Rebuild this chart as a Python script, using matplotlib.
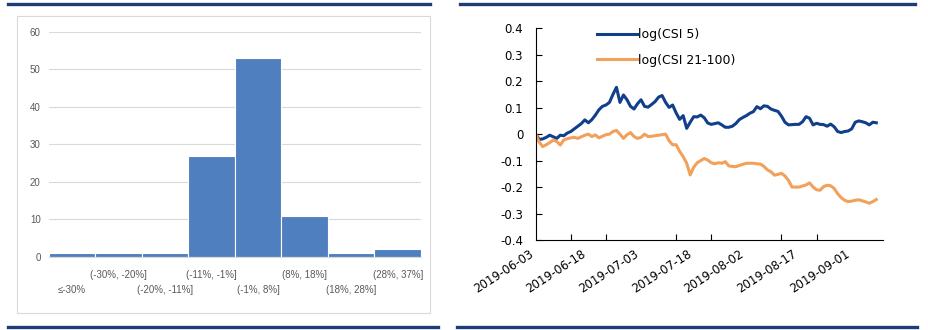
import matplotlib.pyplot as plt
import matplotlib.ticker as mticker
import matplotlib.dates as mdates
from matplotlib.patches import Rectangle
from matplotlib.lines import Line2D
import pandas as pd

# histogram of returns by bucket
buckets = ["≤-30%", "(-30%, -20%]", "(-20%, -11%]", "(-11%, -1%]",
           "(-1%, 8%]", "(8%, 18%]", "(18%, 28%]", "(28%, 37%]"]
counts = [1, 1, 1, 27, 53, 11, 1, 2]

# daily log paths, starting 2019-06-03
start_date = "2019-06-03"
csi5 = [0.000, -0.020, -0.018, -0.012, -0.004, -0.010, -0.016, -0.004, -0.006, 0.004,
        0.010, 0.020, 0.030, 0.040, 0.054, 0.043, 0.055, 0.072, 0.092, 0.105,
        0.110, 0.120, 0.150, 0.177, 0.120, 0.148, 0.130, 0.105, 0.095, 0.115,
        0.130, 0.105, 0.102, 0.112, 0.123, 0.140, 0.146, 0.120, 0.101, 0.110,
        0.080, 0.056, 0.070, 0.022, 0.045, 0.066, 0.065, 0.072, 0.062, 0.042,
        0.037, 0.040, 0.043, 0.035, 0.026, 0.026, 0.030, 0.040, 0.055, 0.063,
        0.070, 0.079, 0.085, 0.104, 0.096, 0.107, 0.105, 0.095, 0.090, 0.086,
        0.068, 0.045, 0.035, 0.036, 0.037, 0.037, 0.047, 0.066, 0.060, 0.035,
        0.041, 0.037, 0.036, 0.030, 0.038, 0.028, 0.010, 0.006, 0.010, 0.012,
        0.020, 0.045, 0.050, 0.047, 0.043, 0.035, 0.045, 0.043]
csi21_100 = [0.000, -0.030, -0.047, -0.040, -0.032, -0.022, -0.028, -0.041, -0.022, -0.017,
             -0.014, -0.012, -0.016, -0.010, -0.004, 0.000, -0.009, -0.003, -0.014, -0.008,
             -0.002, 0.000, 0.010, 0.014, 0.000, -0.016, -0.002, 0.006, -0.009, -0.016,
             -0.012, 0.000, -0.009, -0.008, -0.006, -0.004, -0.002, 0.000, -0.025, -0.040,
             -0.040, -0.065, -0.085, -0.110, -0.154, -0.125, -0.108, -0.100, -0.092, -0.098,
             -0.108, -0.112, -0.108, -0.110, -0.104, -0.120, -0.122, -0.123, -0.118, -0.114,
             -0.110, -0.110, -0.110, -0.112, -0.113, -0.122, -0.135, -0.142, -0.155, -0.152,
             -0.148, -0.158, -0.175, -0.200, -0.200, -0.200, -0.196, -0.192, -0.184, -0.200,
             -0.210, -0.212, -0.198, -0.193, -0.195, -0.205, -0.225, -0.240, -0.250, -0.255,
             -0.253, -0.250, -0.248, -0.252, -0.256, -0.261, -0.255, -0.247]
series_names = ["log(CSI 5)", "log(CSI 21-100)"]

dates = pd.date_range(start_date, periods=len(csi5), freq="D")

W, H = 929, 330
fig = plt.figure(figsize=(W / 100, H / 100), dpi=100)

def fx(px):
    return px / W

def fy(py):
    return 1 - py / H

# header / footer rules
navy = "#1c3d78"
for x0, x1 in [(8, 430), (460, 915)]:
    fig.add_artist(Line2D([fx(x0), fx(x1)], [fy(3.5), fy(3.5)], color=navy, lw=2.4))
for x0, x1 in [(8, 438), (457, 917)]:
    fig.add_artist(Line2D([fx(x0), fx(x1)], [fy(326.5), fy(326.5)], color=navy, lw=2.4))

# light frame around the histogram
fig.add_artist(Rectangle((fx(17), fy(313)), fx(430) - fx(17), fy(16) - fy(313),
                         fill=False, edgecolor="#d9d9d9", lw=0.8))

#-----------------------------------------------------
# LEFT: histogram
#-----------------------------------------------------
ax1 = fig.add_axes([fx(49), fy(257), fx(421) - fx(49), fy(31.7) - fy(257)])
ax1.bar(range(len(counts)), counts, width=1.0, color="#4f7fbe", edgecolor="white", lw=0.8, zorder=2)
ax1.set_xlim(-0.5, len(counts) - 0.5)
ax1.set_ylim(0, 60)
ax1.set_yticks(range(0, 61, 10))
ax1.yaxis.grid(True, color="#d9d9d9", lw=0.8, zorder=0)
for s in ["top", "right", "left"]:
    ax1.spines[s].set_visible(False)
ax1.spines["bottom"].set_color("#d9d9d9")
ax1.tick_params(axis="y", length=0, pad=6, labelsize=7, labelcolor="#595959")
ax1.tick_params(axis="x", length=0)
ax1.set_xticks([])
for lab in ax1.get_yticklabels():
    lab.set_family(["Liberation Sans", "DejaVu Sans"])
for i, name in enumerate(buckets):
    yrow = -0.08 if i % 2 else -0.146
    ax1.text(i, yrow, name, transform=ax1.get_xaxis_transform(), ha="center", va="center",
             fontsize=7, color="#595959", family=["Liberation Sans", "DejaVu Sans"])

#-----------------------------------------------------
# RIGHT: log index paths
#-----------------------------------------------------
ax2 = fig.add_axes([fx(535.7), fy(240), fx(883.3) - fx(535.7), fy(28.3) - fy(240)])
ax2.plot(dates, csi5, color="#123f8a", lw=2.2, label=series_names[0])
ax2.plot(dates, csi21_100, color="#f2a05a", lw=2.2, label=series_names[1])

t0 = pd.Timestamp(start_date)
ax2.set_xlim(t0, t0 + pd.Timedelta(days=99))
ax2.set_ylim(-0.4, 0.4)
ax2.yaxis.set_major_locator(mticker.MultipleLocator(0.1))
ax2.yaxis.set_major_formatter(mticker.FuncFormatter(lambda v, p: "0" if abs(v) < 1e-9 else f"{v:.1f}"))
ax2.set_xticks(pd.date_range(start_date, "2019-09-01", freq="15D"))
ax2.set_xticks(pd.date_range(start_date, "2019-09-01", freq="10D"), minor=True)
ax2.xaxis.set_major_formatter(mdates.DateFormatter("%Y-%m-%d"))
ax2.tick_params(axis="x", which="major", length=0, pad=5, labelsize=8.5)
ax2.tick_params(axis="x", which="minor", direction="in", length=4, width=0.8)
ax2.tick_params(axis="y", direction="in", length=4, width=0.8, pad=9, labelsize=8.5)
for lab in ax2.get_xticklabels():
    lab.set_rotation(33)
    lab.set_ha("right")
for s in ["top", "right"]:
    ax2.spines[s].set_visible(False)
for s in ["left", "bottom"]:
    ax2.spines[s].set_linewidth(0.8)

ax2.legend(loc="upper left", bbox_to_anchor=(0.176, 1.0), frameon=False, fontsize=9,
           handlelength=3.2, handletextpad=0.1, labelspacing=1.0, borderpad=0, borderaxespad=0)

fig.savefig("out.png", dpi=100)
